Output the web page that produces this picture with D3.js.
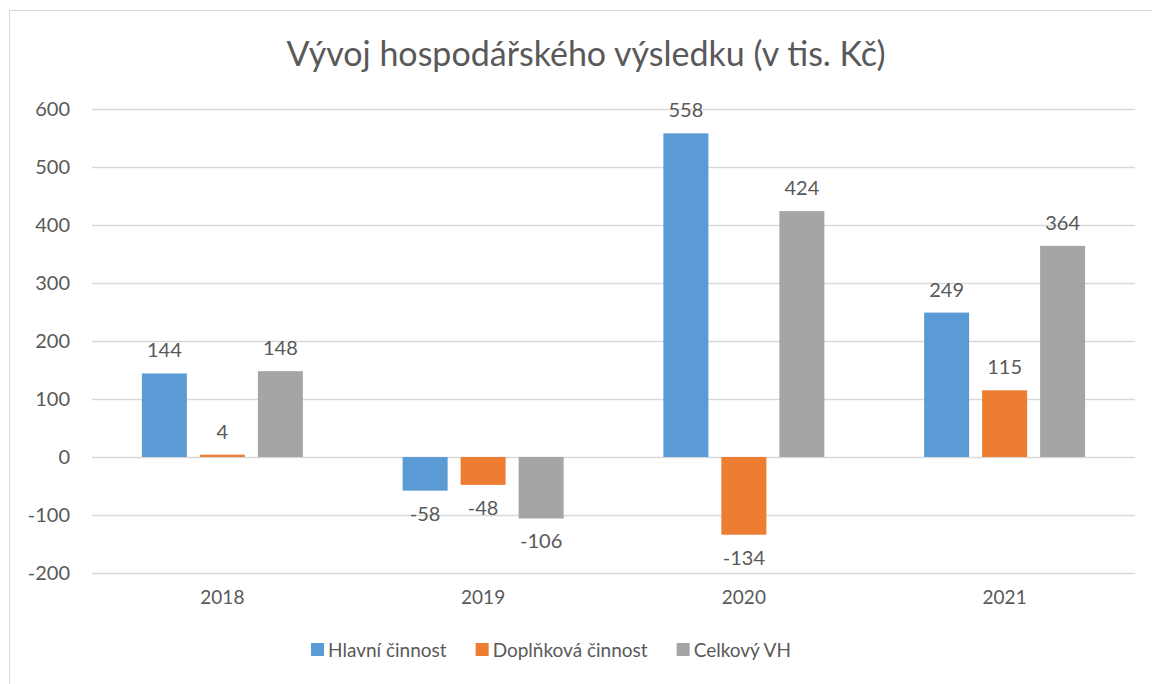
<!DOCTYPE html>
<html lang="cs">
<head>
<meta charset="UTF-8" />
<title>Vývoj hospodářského výsledku</title>
<style>
  body { margin: 0; background: #fff; }
  svg text { font-family: Lato, "Liberation Sans", sans-serif; fill: #595959; }
</style>
</head>
<body>
<svg class="chart" width="1152" height="684"></svg>
<script src="https://d3js.org/d3.v7.min.js"></script>
<script>
  const years = ['2018', '2019', '2020', '2021'];
  const seriesNames = ['Hlavní činnost', 'Doplňková činnost', 'Celkový VH'];
  const hlavni = [144, -58, 558, 249];
  const doplnkova = [4, -48, -134, 115];
  const celkovy = [148, -106, 424, 364];
  const yTicks = [-200, -100, 0, 100, 200, 300, 400, 500, 600];
  const colors = ['#5B9BD5', '#ED7D31', '#A5A5A5'];

  const values = [hlavni, doplnkova, celkovy];
  const data = years.map((yr, i) => ({
    year: yr,
    vals: seriesNames.map((s, k) => ({ key: s, k: k, value: values[k][i] }))
  }));

  const svg = d3.select('.chart');
  const plotLeft = 92, plotRight = 1135, plotTop = 109, plotBottom = 573;

  // rámeček grafu
  svg.append('rect')
    .attr('x', 9.5).attr('y', 10.5)
    .attr('width', 1160).attr('height', 700)
    .attr('fill', 'none').attr('stroke', '#d9d9d9');

  svg.append('text')
    .attr('x', 586).attr('y', 66)
    .attr('text-anchor', 'middle')
    .style('font-size', '34px')
    .text('Vývoj hospodářského výsledku (v tis. Kč)');

  const x0 = d3.scaleBand().domain(years).range([plotLeft, plotRight]);
  const y = d3.scaleLinear().domain([-200, 600]).range([plotBottom, plotTop]);

  // mřížka
  svg.append('g')
    .selectAll('line')
    .data(yTicks)
    .join('line')
    .attr('x1', plotLeft).attr('x2', plotRight)
    .attr('y1', d => y(d) + 0.5).attr('y2', d => y(d) + 0.5)
    .attr('stroke', '#d9d9d9').attr('stroke-width', 1.5);

  svg.append('g')
    .selectAll('text')
    .data(yTicks)
    .join('text')
    .attr('x', 70).attr('y', d => y(d))
    .attr('dy', '0.35em')
    .attr('text-anchor', 'end')
    .style('font-size', '20px')
    .text(d => d);

  const step = 58, barW = 45;
  const x1 = d3.scaleBand()
    .domain(seriesNames)
    .range([-1.5 * step, 1.5 * step])
    .paddingInner((step - barW) / step)
    .paddingOuter((step - barW) / step / 2);

  const groups = svg.append('g')
    .selectAll('g')
    .data(data)
    .join('g')
    .attr('transform', d => `translate(${x0(d.year) + x0.bandwidth() / 2},0)`);

  groups.selectAll('rect')
    .data(d => d.vals)
    .join('rect')
    .attr('x', d => x1(d.key))
    .attr('width', x1.bandwidth())
    .attr('y', d => y(Math.max(0, d.value)))
    .attr('height', d => Math.abs(y(d.value) - y(0)))
    .attr('fill', d => colors[d.k]);

  groups.selectAll('text')
    .data(d => d.vals)
    .join('text')
    .attr('x', d => x1(d.key) + x1.bandwidth() / 2)
    .attr('y', d => d.value >= 0 ? y(d.value) - 23 : y(d.value) + 23)
    .attr('dy', '0.35em')
    .attr('text-anchor', 'middle')
    .style('font-size', '20px')
    .text(d => d.value);

  // popisky osy x
  svg.append('g')
    .selectAll('text')
    .data(years)
    .join('text')
    .attr('x', d => x0(d) + x0.bandwidth() / 2)
    .attr('y', 597)
    .attr('dy', '0.35em')
    .attr('text-anchor', 'middle')
    .style('font-size', '19px')
    .text(d => d);

  // legenda
  const legend = svg.append('g');
  const items = legend.selectAll('g')
    .data(seriesNames)
    .join('g');
  items.append('rect')
    .attr('width', 13).attr('height', 13)
    .attr('y', 643)
    .attr('fill', (d, i) => colors[i]);
  items.append('text')
    .attr('x', 17).attr('y', 650)
    .attr('dy', '0.35em')
    .style('font-size', '19px')
    .text(d => d);

  let pos = 0;
  const offsets = [];
  items.each(function () {
    offsets.push(pos);
    pos += 17 + d3.select(this).select('text').node().getComputedTextLength() + 29;
  });
  const total = pos - 29;
  const start = 551 - total / 2;
  items.attr('transform', (d, i) => `translate(${start + offsets[i]},0)`);
</script>
</body>
</html>
